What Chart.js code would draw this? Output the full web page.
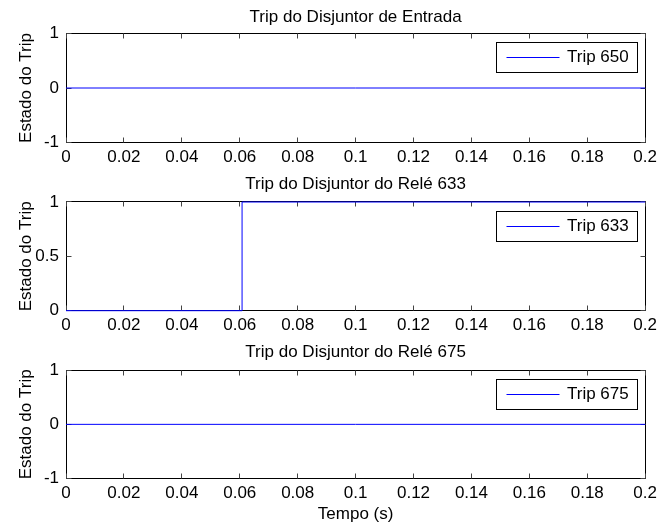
<!DOCTYPE html>
<html>
<head>
<meta charset="utf-8">
<title>Trip dos disjuntores</title>
<script src="https://cdn.jsdelivr.net/npm/chart.js@4.4.0/dist/chart.umd.min.js"></script>
<style>
  html, body { margin: 0; padding: 0; background: #fff; }
  #wrap { position: relative; width: 661px; height: 529px; }
  #wrap canvas { position: absolute; left: 0; top: 0; }
</style>
</head>
<body>
<div id="wrap">
  <canvas id="trip650" width="661" height="529"></canvas>
  <canvas id="trip633" width="661" height="529"></canvas>
  <canvas id="trip675" width="661" height="529"></canvas>
</div>
<script>
const FONT = "'Liberation Sans', Arial, Helvetica, sans-serif";

// eixo do tempo (s)
const xTicks = [0, 0.02, 0.04, 0.06, 0.08, 0.1, 0.12, 0.14, 0.16, 0.18, 0.2];
const xTickLabels = ['0', '0.02', '0.04', '0.06', '0.08', '0.1', '0.12', '0.14', '0.16', '0.18', '0.2'];

// Trip 650 - disjuntor de entrada
const tempo650 = [0, 0.2];
const trip650 = [0, 0];

// Trip 633 - relé 633 (atua em ~0.061 s)
const tempo633 = [0, 0.0608, 0.0608, 0.2];
const trip633 = [0, 0, 1, 1];

// Trip 675 - relé 675
const tempo675 = [0, 0.2];
const trip675 = [0, 0];

// ticks do eixo y
const yTicksTrip = [-1, 0, 1];
const yTickLabelsTrip = ['-1', '0', '1'];
const yTicks633 = [0, 0.5, 1];
const yTickLabels633 = ['0', '0.5', '1'];

// Moldura do eixo + ticks para dentro (estilo MATLAB)
const moldura = {
  id: 'moldura',
  beforeDatasetsDraw(chart) {
    const { ctx, chartArea: a, scales } = chart;
    const L = Math.floor(a.left) + 0.5;
    const R = Math.floor(a.right) + 0.5;
    const T = Math.floor(a.top) + 0.5;
    const B = Math.floor(a.bottom) + 0.5;
    ctx.save();
    ctx.strokeStyle = '#000';
    ctx.lineWidth = 1;
    ctx.strokeRect(L, T, R - L, B - T);
    ctx.beginPath();
    scales.x.ticks.forEach(t => {
      const px = Math.floor(scales.x.getPixelForValue(t.value)) + 0.5;
      ctx.moveTo(px, T); ctx.lineTo(px, T + 5);
      ctx.moveTo(px, B); ctx.lineTo(px, B - 5);
    });
    scales.y.ticks.forEach(t => {
      const py = Math.floor(scales.y.getPixelForValue(t.value)) + 0.5;
      ctx.moveTo(L, py); ctx.lineTo(L + 5, py);
      ctx.moveTo(R, py); ctx.lineTo(R - 5, py);
    });
    ctx.strokeStyle = '#444';
    ctx.stroke();
    ctx.restore();
  }
};

// Legenda com caixa, no canto superior direito
const legenda = {
  id: 'legenda',
  afterDraw(chart) {
    const { ctx, chartArea: a } = chart;
    const ds = chart.data.datasets[0];
    ctx.save();
    ctx.font = '17px ' + FONT;
    const tw = ctx.measureText(ds.label).width;
    const h = 30;
    const right = Math.floor(a.right - 8) + 0.5;
    const top = Math.floor(a.top + 9.4) + 0.5;
    const left = Math.floor(right - (10.5 + 53 + 7 + tw + 8.5)) + 0.5;
    ctx.fillStyle = '#fff';
    ctx.fillRect(left, top, right - left, h);
    ctx.strokeStyle = '#000';
    ctx.lineWidth = 1;
    ctx.strokeRect(left, top, right - left, h);
    const cy = top + h / 2;
    ctx.strokeStyle = '#0000ff';
    ctx.beginPath();
    ctx.moveTo(left + 10, Math.floor(cy) + 0.5);
    ctx.lineTo(left + 63, Math.floor(cy) + 0.5);
    ctx.stroke();
    ctx.fillStyle = '#000';
    ctx.textAlign = 'left';
    ctx.textBaseline = 'middle';
    ctx.fillText(ds.label, left + 10.5 + 53 + 7, cy);
    ctx.restore();
  }
};

const subplots = [
  { id: 'trip650', title: 'Trip do Disjuntor de Entrada', label: 'Trip 650',
    x: tempo650, y: trip650, yTicks: yTicksTrip, yLabels: yTickLabelsTrip, yMin: -1, yMax: 1,
    top: 33.3, bottom: 142.7, titleGap: 6.1, xAxisHeight: 30, xTitle: false },
  { id: 'trip633', title: 'Trip do Disjuntor do Relé 633', label: 'Trip 633',
    x: tempo633, y: trip633, yTicks: yTicks633, yLabels: yTickLabels633, yMin: 0, yMax: 1,
    top: 202, bottom: 310.7, titleGap: 7.8, xAxisHeight: 30, xTitle: false },
  { id: 'trip675', title: 'Trip do Disjuntor do Relé 675', label: 'Trip 675',
    x: tempo675, y: trip675, yTicks: yTicksTrip, yLabels: yTickLabelsTrip, yMin: -1, yMax: 1,
    top: 370, bottom: 478.7, titleGap: 7.4, xAxisHeight: 50.3, xTitle: true }
];

function fonte() {
  return { family: FONT, size: 17, weight: 'normal', lineHeight: 1.2 };
}

function criarSubplot(sp) {
  const ctx = document.getElementById(sp.id).getContext('2d');
  return new Chart(ctx, {
    type: 'line',
    data: {
      datasets: [{
        label: sp.label,
        data: sp.x.map((t, i) => ({ x: t, y: sp.y[i] })),
        borderColor: '#0000ff',
        backgroundColor: '#0000ff',
        borderWidth: 1,
        pointRadius: 0,
        tension: 0,
        fill: false,
        clip: false
      }]
    },
    options: {
      responsive: false,
      animation: false,
      events: [],
      layout: {
        padding: {
          top: sp.top - 20.4 - sp.titleGap,
          bottom: 529 - sp.bottom - sp.xAxisHeight,
          left: 0,
          right: 14.5
        }
      },
      plugins: {
        legend: { display: false },
        tooltip: { enabled: false },
        title: {
          display: true,
          fullSize: false,
          text: sp.title,
          color: '#000',
          font: fonte(),
          padding: { top: 0, bottom: sp.titleGap }
        }
      },
      scales: {
        x: {
          type: 'linear',
          min: 0,
          max: 0.2,
          grid: { display: false, drawTicks: false },
          border: { display: false },
          afterBuildTicks: s => { s.ticks = xTicks.map(v => ({ value: v })); },
          afterFit: s => { s.height = sp.xAxisHeight; },
          ticks: {
            autoSkip: false,
            maxRotation: 0,
            padding: 4,
            color: '#000',
            font: fonte(),
            callback: (v, i) => xTickLabels[i]
          },
          title: {
            display: sp.xTitle,
            text: 'Tempo (s)',
            color: '#000',
            font: fonte(),
            padding: { top: 0, bottom: 4.8 }
          }
        },
        y: {
          type: 'linear',
          min: sp.yMin,
          max: sp.yMax,
          grid: { display: false, drawTicks: false },
          border: { display: false },
          afterBuildTicks: s => { s.ticks = sp.yTicks.map(v => ({ value: v })); },
          afterFit: s => { s.width = 66; },
          ticks: {
            autoSkip: false,
            padding: 7,
            color: '#000',
            font: fonte(),
            callback: (v, i) => sp.yLabels[i]
          },
          title: {
            display: true,
            text: 'Estado do Trip',
            color: '#000',
            font: fonte(),
            padding: { top: 16, bottom: 0 }
          }
        }
      }
    },
    plugins: [moldura, legenda]
  });
}

subplots.forEach(criarSubplot);
</script>
</body>
</html>
